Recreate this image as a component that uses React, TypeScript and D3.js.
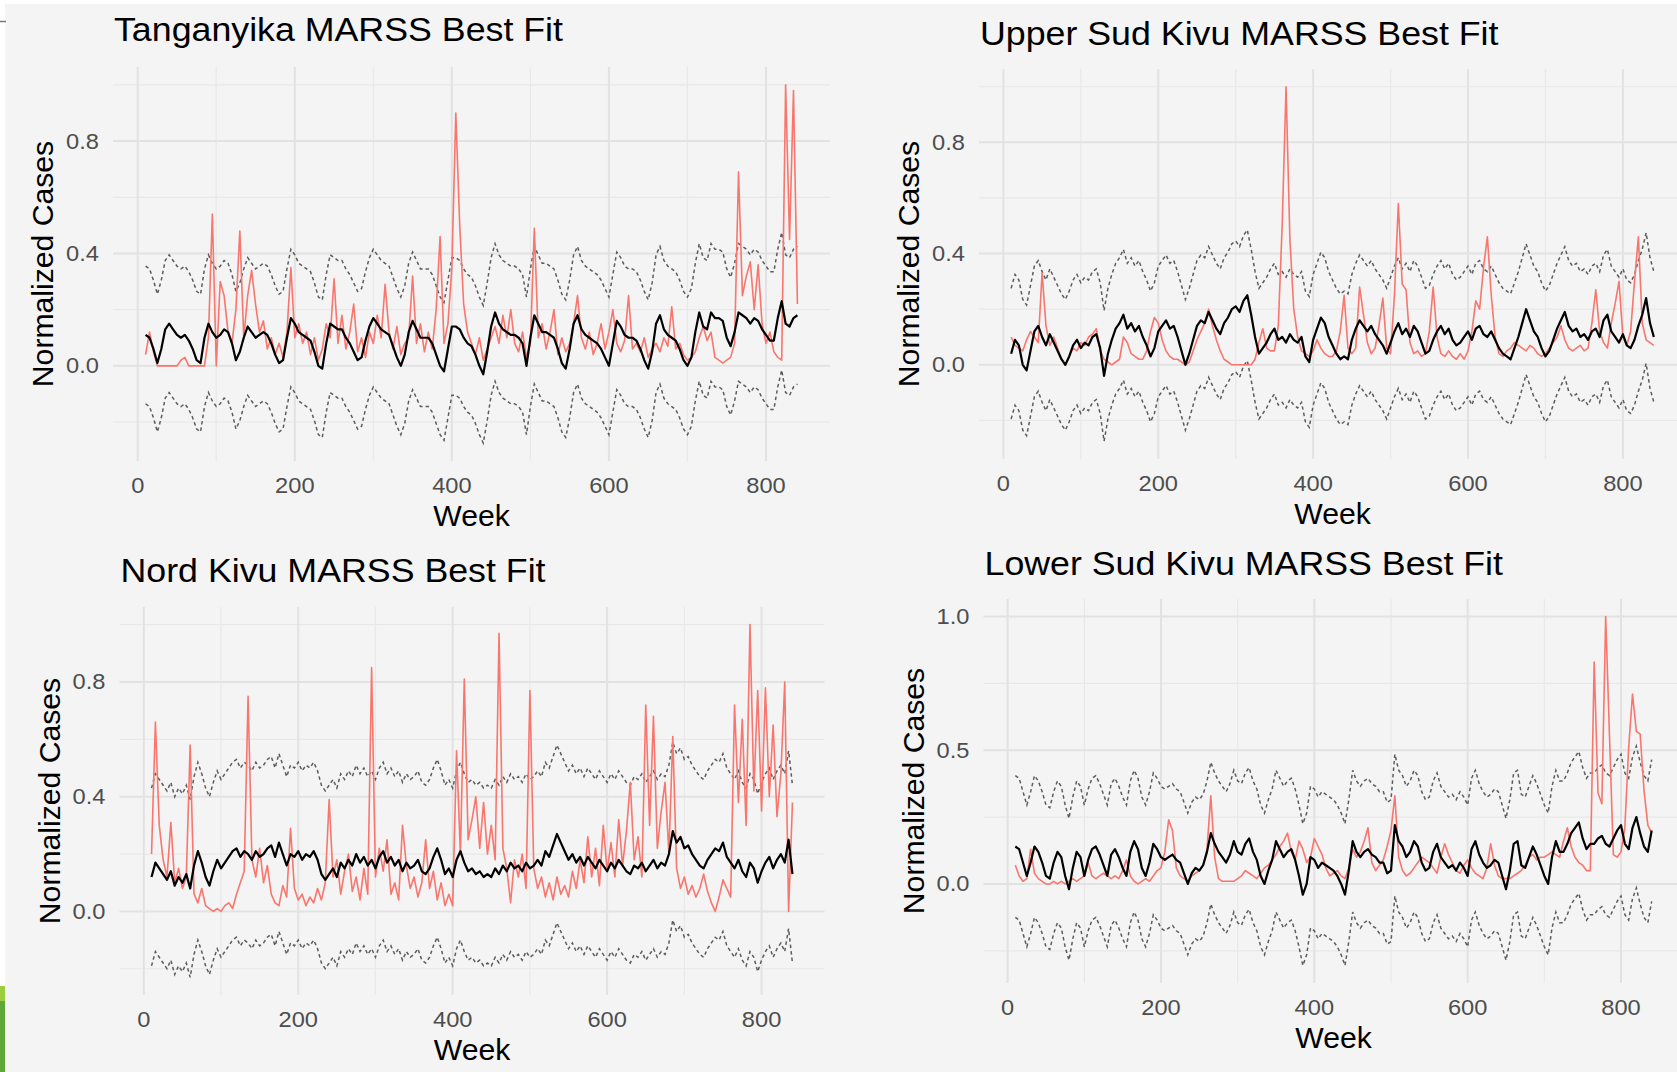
import React from 'react';
import * as d3 from 'd3';

// weekly index of the series (sampled every 5 weeks)
const weeks = d3.range(10, 841, 5);

// values are normalized cases x 100
const tanganyikaObserved = [
  4, 12, 5, 0, 0, 0, 0, 0, 0, 2, 3, 0, 0, 0, 0, 0, 10, 54, 0, 30,
  25, 12, 8, 20, 48, 10, 25, 34, 22, 12, 16, 6, 10, 4, 8, 3, 12, 35, 10, 15,
  8, 12, 4, 10, 2, 6, 15, 10, 31, 8, 18, 6, 12, 22, 5, 10, 3, 12, 8, 18,
  10, 29, 12, 6, 14, 4, 8, 10, 32, 8, 15, 5, 12, 6, 20, 46, 8, 15, 35, 90,
  50, 22, 12, 8, 4, 10, 2, 6, 10, 14, 8, 18, 10, 20, 8, 5, 12, 3, 8, 49,
  10, 15, 6, 12, 20, 4, 10, 5, 8, 15, 25, 10, 6, 12, 4, 8, 15, 6, 12, 20,
  8, 5, 9, 25, 6, 8, 5, 10, 3, 6, 8, 5, 10, 7, 21, 6, 8, 4, 2, 3,
  5, 10, 14, 9, 12, 3, 2, 1, 2, 3, 8, 69, 25, 32, 37, 20, 36, 15, 8, 12,
  5, 3, 2, 100, 45, 98, 22,
];
const tanganyikaFitted = [
  11, 10, 6, 1, 6, 13, 15, 13, 11, 10, 11, 9, 6, 2, 1, 10, 15, 12, 10, 11,
  13, 12, 8, 2, 5, 10, 14, 12, 10, 11, 12, 11, 8, 4, 1, 2, 10, 17, 15, 12,
  11, 10, 9, 5, 0, -1, 8, 15, 14, 13, 13, 10, 8, 5, 2, 3, 9, 14, 17, 15,
  13, 12, 11, 7, 3, 0, 4, 12, 16, 13, 10, 10, 10, 8, 4, 0, -2, 6, 14, 14,
  13, 10, 8, 7, 4, 0, -3, 5, 14, 19, 15, 13, 12, 11, 11, 10, 8, 0, 10, 18,
  15, 12, 12, 11, 10, 6, 1, -1, 6, 15, 18, 13, 11, 10, 9, 8, 6, 3, 0, 8,
  16, 14, 11, 10, 10, 9, 6, 2, -1, 5, 15, 18, 13, 11, 10, 9, 6, 2, 0, 3,
  12, 19, 14, 13, 19, 17, 17, 16, 10, 7, 12, 19, 18, 17, 15, 17, 16, 13, 11, 9,
  9, 17, 23, 15, 14, 17, 18,
];

const upperSudKivuObserved = [
  10, 7, 6, 5, 9, 12, 10, 8, 33, 14, 7, 10, 6, 2, 0, 3, 6, 5, 8, 7,
  10, 11, 13, 5, 2, 1, 0, 1, 2, 10, 8, 4, 3, 2, 2, 5, 12, 17, 15, 9,
  5, 3, 2, 2, 1, 0, 1, 5, 9, 12, 15, 20, 14, 9, 5, 2, 1, 0, 0, 0,
  0, 0, 0, 2, 8, 13, 6, 5, 5, 14, 50, 100, 45, 20, 10, 5, 4, 3, 5, 9,
  6, 4, 3, 3, 5, 12, 25, 6, 4, 6, 28, 18, 8, 4, 6, 14, 24, 6, 4, 25,
  58, 29, 27, 8, 4, 5, 3, 4, 12, 28, 10, 4, 3, 5, 3, 2, 4, 2, 5, 12,
  23, 20, 35, 46, 25, 10, 4, 3, 5, 6, 8, 7, 6, 5, 7, 6, 4, 3, 4, 6,
  8, 10, 14, 9, 6, 5, 6, 7, 5, 6, 15, 27, 12, 8, 6, 15, 22, 30, 10, 7,
  12, 30, 46, 15, 9, 8, 7,
];
const upperSudKivuFitted = [
  4, 9, 7, 0, -2, 5, 12, 14, 10, 7, 11, 8, 5, 2, 0, 3, 7, 9, 6, 8,
  7, 10, 11, 6, -4, 4, 9, 13, 15, 18, 13, 15, 12, 14, 10, 7, 3, 6, 12, 14,
  16, 13, 14, 10, 5, 0, 4, 9, 14, 16, 15, 19, 16, 13, 11, 15, 17, 20, 21, 19,
  23, 25, 18, 10, 4, 6, 8, 11, 13, 9, 10, 8, 11, 9, 8, 10, 3, 1, 9, 13,
  17, 15, 10, 7, 4, 2, 3, 2, 9, 13, 16, 14, 12, 14, 11, 9, 7, 4, 8, 12,
  15, 11, 13, 10, 14, 12, 8, 4, 5, 9, 12, 14, 11, 13, 9, 7, 8, 10, 12, 9,
  13, 14, 11, 10, 12, 9, 6, 4, 3, 2, 6, 10, 15, 20, 16, 12, 10, 6, 3, 5,
  9, 13, 16, 19, 14, 12, 13, 10, 11, 9, 12, 13, 10, 16, 18, 12, 10, 8, 11, 7,
  6, 9, 14, 18, 24, 15, 10,
];

const nordKivuObserved = [
  20, 66, 30, 18, 12, 31, 10, 15, 8, 12, 58, 6, 3, 8, 2, 1, 0, 1, 0, 2,
  3, 1, 6, 10, 14, 75, 18, 12, 22, 10, 16, 6, 3, 2, 9, 5, 29, 8, 4, 6,
  2, 5, 3, 8, 4, 10, 39, 12, 18, 6, 14, 20, 7, 12, 4, 15, 6, 85, 12, 22,
  14, 25, 6, 10, 4, 30, 16, 8, 12, 5, 10, 25, 8, 14, 4, 10, 2, 6, 2, 56,
  20, 81, 25, 32, 40, 22, 38, 20, 30, 18, 97, 22, 15, 3, 18, 12, 20, 8, 77, 15,
  8, 12, 5, 10, 4, 12, 6, 9, 5, 14, 8, 18, 10, 26, 12, 22, 9, 30, 14, 24,
  12, 32, 16, 28, 45, 18, 26, 12, 72, 30, 68, 22, 35, 45, 20, 61, 15, 8, 12, 6,
  9, 5, 8, 13, 7, 3, 0, 5, 11, 8, 5, 72, 38, 67, 30, 100, 42, 77, 35, 78,
  40, 65, 33, 48, 80, 0, 38,
];
const nordKivuFitted = [
  12, 17, 15, 13, 11, 14, 9, 12, 10, 13, 8, 16, 21, 17, 12, 9, 14, 18, 15, 17,
  19, 21, 22, 19, 21, 20, 18, 21, 19, 20, 22, 23, 19, 24, 20, 16, 20, 19, 21, 18,
  20, 19, 21, 18, 13, 11, 13, 15, 12, 17, 15, 18, 16, 20, 17, 19, 16, 18, 15, 19,
  21, 17, 19, 16, 18, 14, 17, 15, 16, 18, 14, 13, 15, 19, 22, 18, 13, 15, 12, 18,
  21, 17, 14, 15, 13, 14, 12, 13, 12, 15, 13, 16, 14, 17, 15, 16, 14, 17, 15, 16,
  18, 16, 21, 19, 23, 27, 24, 21, 18, 20, 17, 19, 16, 19, 17, 15, 18, 16, 14, 17,
  15, 18, 16, 14, 13, 16, 15, 17, 14, 16, 18, 15, 17, 16, 20, 28, 24, 26, 22, 23,
  20, 18, 16, 15, 18, 20, 22, 21, 24, 19, 17, 15, 18, 14, 12, 17, 15, 10, 14, 17,
  19, 15, 18, 20, 17, 25, 13,
];

const lowerSudKivuObserved = [
  7, 3, 1, 2, 13, 4, 2, 1, 0, 0, 1, 0, 1, 0, 1, 2, 1, 2, 3, 8,
  3, 2, 3, 4, 3, 2, 3, 2, 5, 9, 3, 1, 0, 1, 2, 1, 3, 5, 6, 12,
  24, 20, 6, 3, 2, 1, 3, 4, 5, 7, 13, 33, 10, 2, 1, 1, 1, 1, 2, 3,
  5, 4, 3, 2, 4, 6, 7, 9, 11, 14, 16, 19, 12, 9, 16, 13, 8, 10, 17, 14,
  11, 6, 3, 4, 5, 3, 2, 6, 13, 10, 12, 16, 21, 8, 5, 7, 9, 14, 20, 33,
  10, 5, 3, 4, 6, 8, 10, 9, 8, 6, 4, 10, 15, 11, 8, 5, 4, 7, 9, 6,
  4, 3, 2, 6, 15, 7, 3, 2, 2, 2, 3, 4, 5, 7, 10, 11, 9, 10, 10, 11,
  12, 11, 10, 16, 21, 14, 10, 8, 7, 5, 5, 83, 34, 30, 100, 55, 11, 10, 12, 21,
  51, 71, 57, 56, 35, 22, 19,
];
const lowerSudKivuFitted = [
  14, 13, 8, 3, 8, 14, 12, 8, 3, 2, 8, 12, 10, 3, -2, 6, 12, 10, 3, 9,
  13, 14, 11, 7, 3, 11, 13, 10, 6, 3, 12, 16, 13, 6, 3, 8, 15, 13, 10, 9,
  10, 11, 9, 8, 4, 0, 4, 6, 5, 7, 12, 19, 15, 12, 10, 8, 11, 16, 12, 11,
  15, 17, 12, 9, 3, 0, 5, 9, 16, 13, 10, 12, 13, 9, 3, -4, 0, 10, 9, 6,
  8, 7, 6, 5, 3, 0, -4, 5, 16, 12, 10, 12, 13, 11, 10, 8, 8, 4, 5, 22,
  16, 14, 10, 12, 16, 14, 8, 5, 6, 12, 15, 10, 8, 6, 7, 5, 8, 6, 3, 13,
  16, 11, 8, 6, 7, 9, 8, 3, -2, 5, 15, 16, 7, 6, 10, 14, 11, 7, 3, 0,
  10, 16, 12, 12, 15, 19, 21, 23, 17, 13, 15, 15, 17, 18, 15, 14, 17, 20, 22, 15,
  13, 21, 25, 19, 14, 12, 20,
];

// half width of the dashed interval around each fit
const intervalHalfWidth = [0.245, 0.235, 0.31, 0.265];

const xBreaks = [0, 200, 400, 600, 800];
const xMinorBreaks = [100, 300, 500, 700];
const yBreaks = [0, 0.4, 0.8];
const yMinorBreaks = [-0.2, 0.2, 0.6, 1.0];
const yBreaksLower = [0, 0.5, 1.0];
const yMinorBreaksLower = [-0.25, 0.25, 0.75];

const titles = [
  'Tanganyika MARSS Best Fit',
  'Upper Sud Kivu MARSS Best Fit',
  'Nord Kivu MARSS Best Fit',
  'Lower Sud Kivu MARSS Best Fit',
];

const panels = [
  { observed: tanganyikaObserved, fitted: tanganyikaFitted, major: yBreaks, minor: yMinorBreaks,
    box: { left: 113, top: 67, width: 717, height: 394, titleY: 41 } },
  { observed: upperSudKivuObserved, fitted: upperSudKivuFitted, major: yBreaks, minor: yMinorBreaks,
    box: { left: 979, top: 69, width: 707, height: 390, titleY: 45 } },
  { observed: nordKivuObserved, fitted: nordKivuFitted, major: yBreaks, minor: yMinorBreaks,
    box: { left: 119.5, top: 607, width: 705, height: 388, titleY: 582 } },
  { observed: lowerSudKivuObserved, fitted: lowerSudKivuFitted, major: yBreaksLower, minor: yMinorBreaksLower,
    box: { left: 983.5, top: 599, width: 700, height: 384, titleY: 575 } },
];

const font = '"Liberation Sans", Arial, Helvetica, sans-serif';
const fmt = d3.format('.1f');

const Label = ({ x, y, size, sx = 1.1, anchor = 'start', fill = '#000', rotate = 0, children }: any) => (
  <text
    transform={`translate(${x},${y}) rotate(${rotate}) scale(${sx},1)`}
    fontSize={size}
    textAnchor={anchor}
    fill={fill}
  >
    {children}
  </text>
);

const Panel = ({ index }: { index: number }) => {
  const p = panels[index];
  const { left, top, width, height, titleY } = p.box;
  const bottom = top + height;
  const hw = intervalHalfWidth[index];

  const obs = p.observed.slice(0, weeks.length).map(v => v / 100);
  const fit = p.fitted.slice(0, weeks.length).map(v => v / 100);
  const upper = fit.map(v => v + hw);
  const lower = fit.map(v => v - hw);

  const [w0, w1] = d3.extent(weeks) as [number, number];
  const xPad = (w1 - w0) * 0.05;
  const x = d3.scaleLinear().domain([w0 - xPad, w1 + xPad]).range([left, left + width]);

  const yMin = d3.min(lower) as number;
  const yMax = d3.max([...obs, ...upper]) as number;
  const yPad = (yMax - yMin) * 0.05;
  const y = d3.scaleLinear().domain([yMin - yPad, yMax + yPad]).range([bottom, top]);

  const line = d3.line<number>().x((_, i) => x(weeks[i])).y(d => y(d));

  return (
    <g>
      {p.minor.map(v => (
        <line key={'hm' + v} x1={left} x2={left + width} y1={y(v)} y2={y(v)} stroke="#e8e8e8" strokeWidth={1.2} />
      ))}
      {xMinorBreaks.map(v => (
        <line key={'vm' + v} x1={x(v)} x2={x(v)} y1={top} y2={bottom} stroke="#e8e8e8" strokeWidth={1.2} />
      ))}
      {p.major.map(v => (
        <line key={'hM' + v} x1={left} x2={left + width} y1={y(v)} y2={y(v)} stroke="#e2e2e2" strokeWidth={2} />
      ))}
      {xBreaks.map(v => (
        <line key={'vM' + v} x1={x(v)} x2={x(v)} y1={top} y2={bottom} stroke="#e2e2e2" strokeWidth={2} />
      ))}

      <path d={line(upper) ?? ''} fill="none" stroke="#5c5c5c" strokeWidth={1.5} strokeDasharray="3.5 3" />
      <path d={line(lower) ?? ''} fill="none" stroke="#5c5c5c" strokeWidth={1.5} strokeDasharray="3.5 3" />
      <path d={line(obs) ?? ''} fill="none" stroke="#F8766D" strokeWidth={1.6} strokeLinejoin="round" />
      <path d={line(fit) ?? ''} fill="none" stroke="#000" strokeWidth={2.2} strokeLinejoin="round" />

      {p.major.map(v => (
        <Label key={'yl' + v} x={left - 14} y={y(v) + 7.5} size={21.5} anchor="end" fill="#4d4d4d">
          {fmt(v)}
        </Label>
      ))}
      {xBreaks.map(v => (
        <Label key={'xl' + v} x={x(v)} y={bottom + 32} size={21.5} anchor="middle" fill="#4d4d4d">
          {v}
        </Label>
      ))}
      <Label x={left + width / 2} y={bottom + 65} size={29} sx={1.04} anchor="middle">Week</Label>
      <Label x={left - 60} y={top + height / 2} size={29} sx={1.04} anchor="middle" rotate={-90}>
        Normalized Cases
      </Label>
      <Label x={left + 1} y={titleY} size={32.5} sx={1.1}>{titles[index]}</Label>
    </g>
  );
};

export default function App() {
  return (
    <svg
      width={1677}
      height={1072}
      style={{ position: 'absolute', left: 0, top: 0, fontFamily: font }}
    >
      <rect x={0} y={0} width={1677} height={1072} fill="#f4f4f4" />
      <rect x={0} y={0} width={1677} height={4} fill="#ffffff" />
      <rect x={0} y={0} width={5} height={1072} fill="#ffffff" />
      <line x1={0} x2={6} y1={21.5} y2={21.5} stroke="#777" strokeWidth={1.5} />
      <rect x={0} y={986} width={5} height={15} fill="#9ccd3c" />
      <rect x={0} y={1001} width={5} height={71} fill="#5ea83a" />
      {panels.map((_, i) => (
        <Panel key={i} index={i} />
      ))}
    </svg>
  );
}
